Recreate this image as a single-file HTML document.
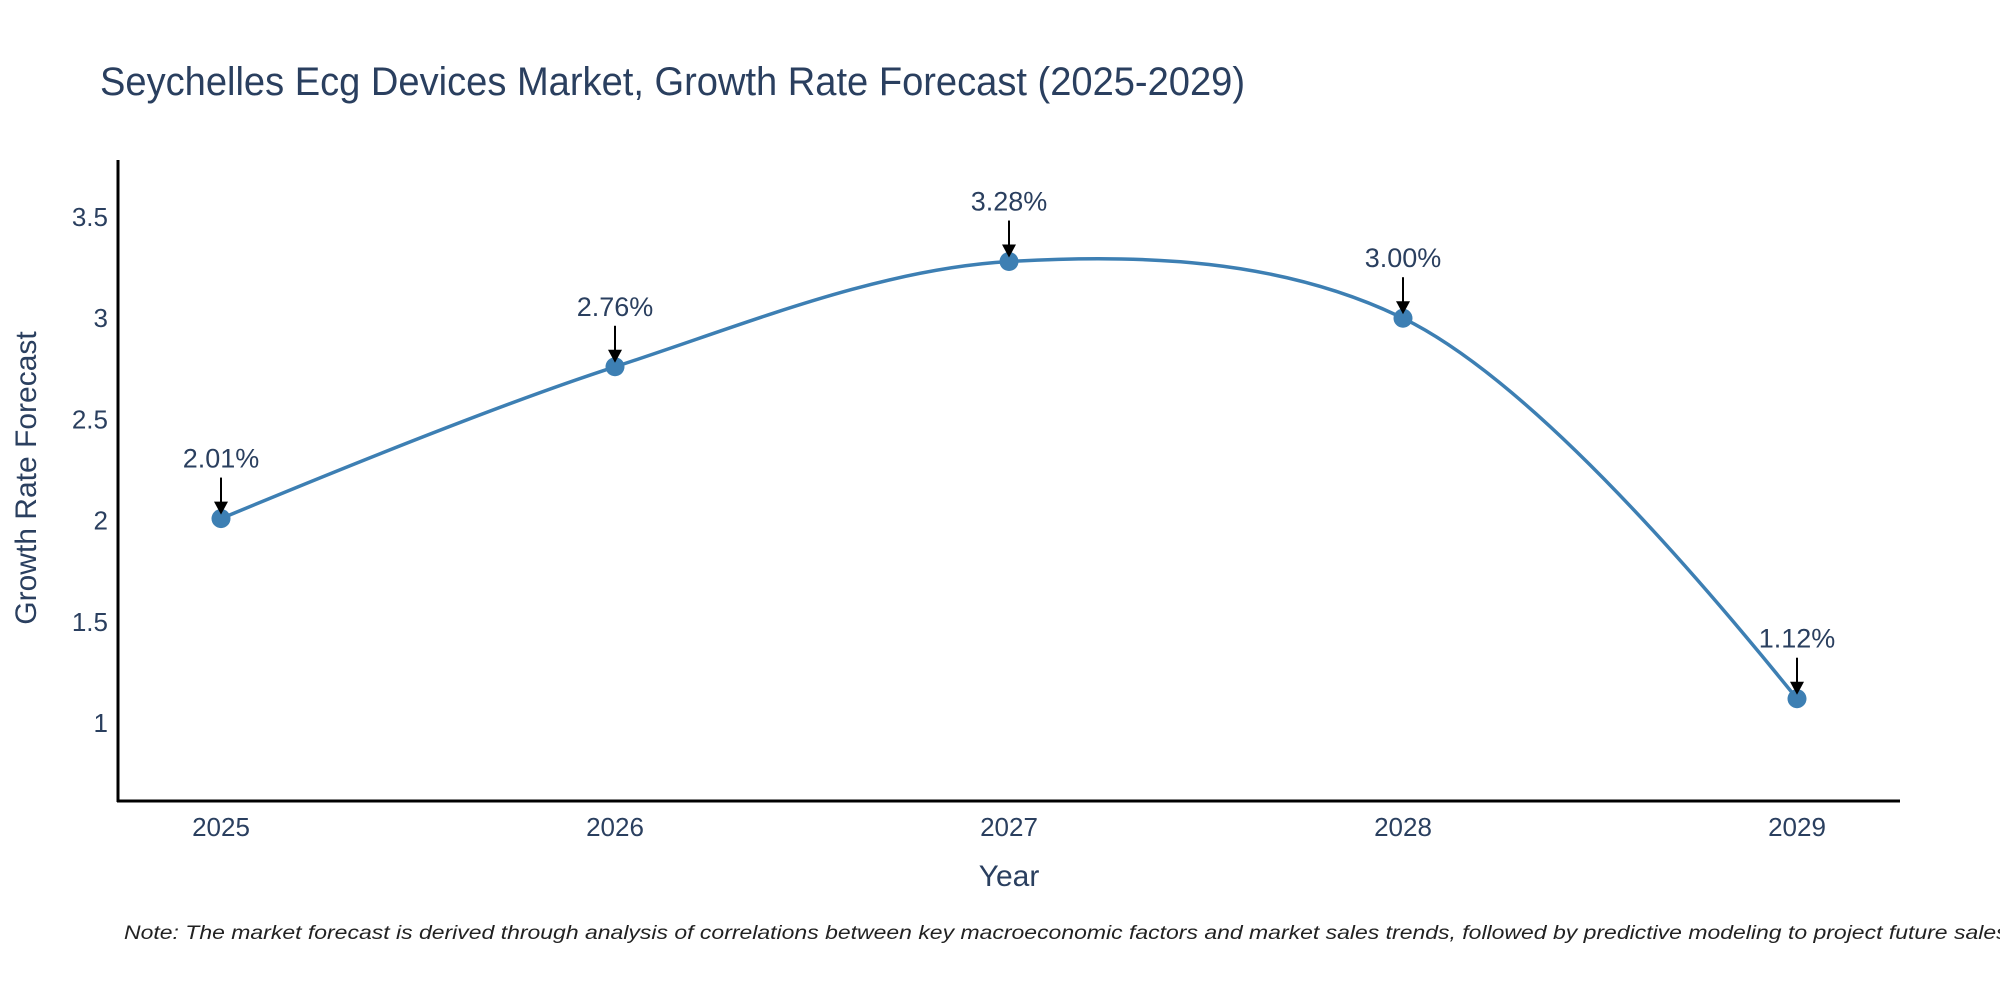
<!DOCTYPE html>
<html><head><meta charset="utf-8"><style>
html,body{margin:0;padding:0;background:#fff;}
svg{display:block;font-family:"Liberation Sans",sans-serif;}
</style></head><body>
<svg id="chart" width="2000" height="1000" viewBox="0 0 2000 1000">
<text x="100" y="95" font-size="40" fill="#2a3f5f" textLength="1145" lengthAdjust="spacingAndGlyphs">Seychelles Ecg Devices Market, Growth Rate Forecast (2025-2029)</text>
<g id="yticks"></g>
<g id="xticks"></g>
<line x1="118" y1="160" x2="118" y2="802" stroke="#000" stroke-width="3"/>
<line x1="117" y1="801" x2="1900" y2="801" stroke="#000" stroke-width="3"/>
<path id="line" fill="none" stroke="#3d7fb3" stroke-width="3.5"/>
<g id="marks"></g>
<text x="1009" y="886" font-size="30" fill="#2a3f5f" text-anchor="middle">Year</text>
<text transform="translate(36,478) rotate(-90)" font-size="30" fill="#2a3f5f" text-anchor="middle">Growth Rate Forecast</text>
<text x="124" y="939" font-size="19" font-style="italic" fill="#222" textLength="1890" lengthAdjust="spacingAndGlyphs">Note: The market forecast is derived through analysis of correlations between key macroeconomic factors and market sales trends, followed by predictive modeling to project future sales.</text>
</svg>
<script>
const years = [2025, 2026, 2027, 2028, 2029];
const rates = [2.01, 2.76, 3.28, 3.00, 1.12];
const labels = ["2.01%", "2.76%", "3.28%", "3.00%", "1.12%"];
const yTickVals = [1, 1.5, 2, 2.5, 3, 3.5];
const yTickLabels = ["1", "1.5", "2", "2.5", "3", "3.5"];

const NS = "http://www.w3.org/2000/svg";
const xScale = v => 221 + (v - 2025) * 394;
const yScale = v => 723 - (v - 1) * 202.4;
function mk(tag, attrs, parent, txt){
  const e = document.createElementNS(NS, tag);
  for (const k in attrs) e.setAttribute(k, attrs[k]);
  if (txt !== undefined) e.textContent = txt;
  parent.appendChild(e); return e;
}
const yt = document.getElementById('yticks');
yTickVals.forEach((v,i)=>{
  const t = mk('text',{x:108,y:yScale(v)+9,'font-size':26,fill:'#2a3f5f','text-anchor':'end'},yt,yTickLabels[i]);
  
  
});
const xt = document.getElementById('xticks');
years.forEach(v=>{
  const t = mk('text',{x:xScale(v),y:836,'font-size':26,fill:'#2a3f5f','text-anchor':'middle'},xt,String(v));
  
  
});
// plotly-style spline
const pts = years.map((y,i)=>[xScale(y), yScale(rates[i])]);
function makeTangent(a,b,c,s){
  const d1x=a[0]-b[0], d1y=a[1]-b[1], d2x=c[0]-b[0], d2y=c[1]-b[1];
  const d1a=Math.pow(d1x*d1x+d1y*d1y,0.25), d2a=Math.pow(d2x*d2x+d2y*d2y,0.25);
  const nx=(d2a*d2a*d1x-d1a*d1a*d2x)*s, ny=(d2a*d2a*d1y-d1a*d1a*d2y)*s;
  const den1=3*d2a*(d1a+d2a), den2=3*d1a*(d1a+d2a);
  return [[b[0]+nx/den1,b[1]+ny/den1],[b[0]-nx/den2,b[1]-ny/den2]];
}
const tg=[];
for(let i=1;i<pts.length-1;i++) tg.push(makeTangent(pts[i-1],pts[i],pts[i+1],1));
let d = `M${pts[0]}Q${tg[0][0]} ${pts[1]}`;
for(let i=2;i<pts.length-1;i++) d += `C${tg[i-2][1]} ${tg[i-1][0]} ${pts[i]}`;
d += `Q${tg[pts.length-3][1]} ${pts[pts.length-1]}`;
document.getElementById('line').setAttribute('d', d);
const mg = document.getElementById('marks');
pts.forEach((p,i)=>{
  const c = mk('circle',{cx:p[0],cy:p[1],r:9.5,fill:'#3d7fb3'},mg);
  
  
  const l = mk('line',{x1:p[0],y1:p[1]-41,x2:p[0],y2:p[1]-14,stroke:'#000','stroke-width':2},mg);
  
  
  const h = mk('polygon',{points:`${p[0]-7},${p[1]-17} ${p[0]+7},${p[1]-17} ${p[0]},${p[1]-4}`,fill:'#000'},mg);
  
  
  const t = mk('text',{x:p[0],y:p[1]-51,'font-size':27,fill:'#2a3f5f','text-anchor':'middle'},mg,labels[i]);
  
  
});
</script>
</body></html>
